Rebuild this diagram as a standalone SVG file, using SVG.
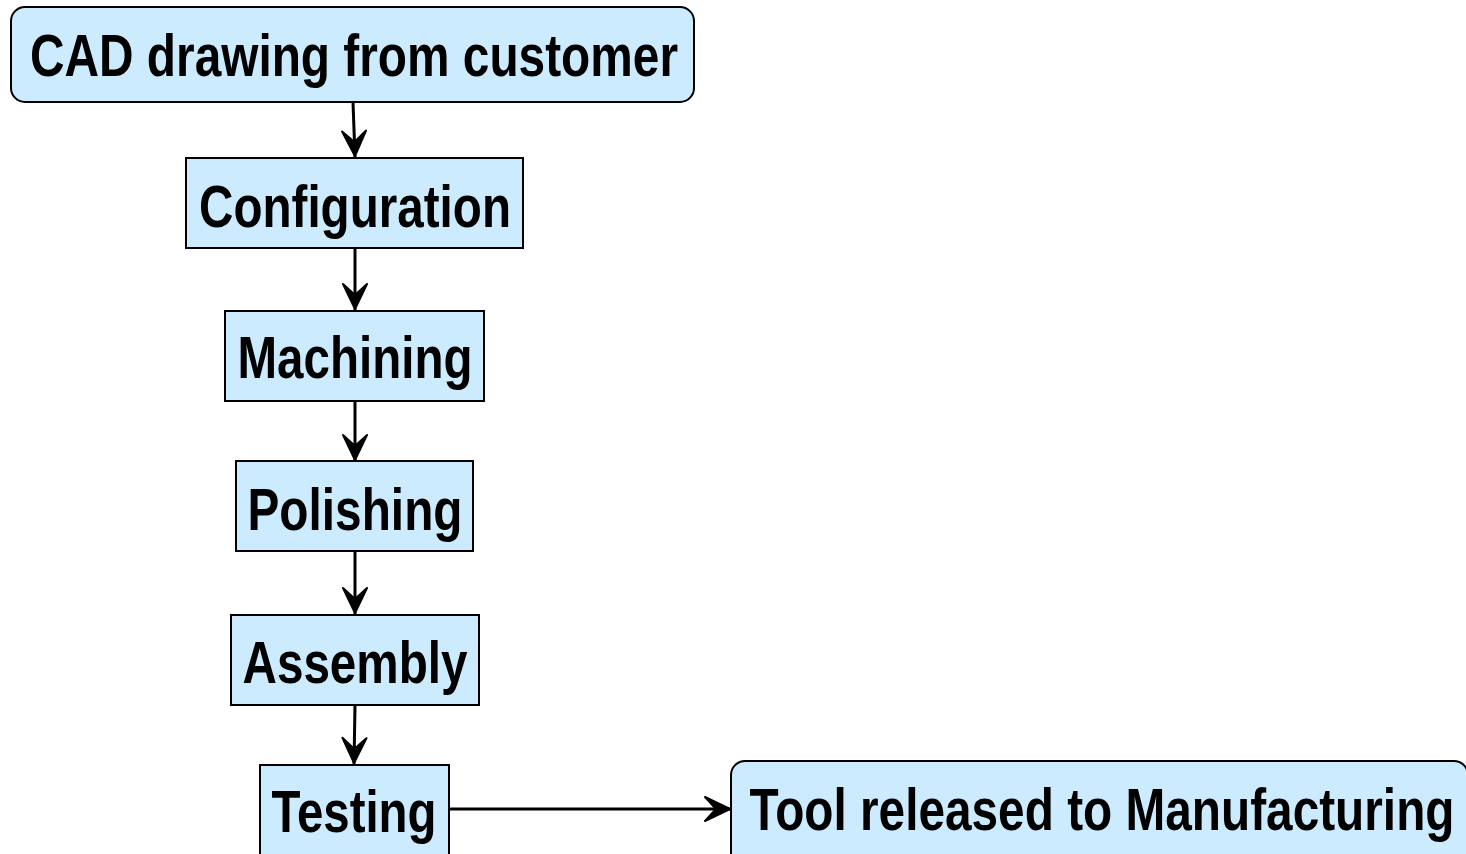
<svg xmlns="http://www.w3.org/2000/svg" width="1466" height="854" viewBox="0 0 1466 854">
  <style>
    .box { fill: #ccebff; stroke: #000; stroke-width: 2; }
    .label { font-family: "Liberation Sans Narrow", "Liberation Sans", Arial, sans-serif; font-weight: bold; font-size: 60px; fill: #000; text-anchor: middle; }
    .edge { stroke: #000; stroke-width: 3; fill: none; marker-end: url(#arrow); }
  </style>
  <defs>
    <marker id="arrow" markerUnits="userSpaceOnUse" markerWidth="34" markerHeight="34" viewBox="-31 -17 34 34" refX="0" refY="0" orient="auto">
      <path d="M-1,0 L-26,-12 L-15,0 L-26,12 Z" fill="#000" stroke="#000" stroke-width="2" stroke-linejoin="round"/>
    </marker>
  </defs>

  <rect width="1466" height="854" fill="#fff"/>

  <!-- connectors -->
  <g id="connectors">
    <path class="edge" d="M353,102 L355,157"/>
    <path class="edge" d="M355,248 L355,310"/>
    <path class="edge" d="M355,401 L355,461"/>
    <path class="edge" d="M355,551 L355,614"/>
    <path class="edge" d="M355,705 L354,764"/>
    <path class="edge" d="M449,809 L731,809"/>
  </g>

  <!-- process steps -->
  <g id="cad">
    <rect class="box" x="11" y="7" width="683" height="95" rx="14"/>
    <text class="label" x="354" y="76" textLength="648" lengthAdjust="spacingAndGlyphs">CAD drawing from customer</text>
  </g>
  <g id="configuration">
    <rect class="box" x="186" y="158" width="337" height="90"/>
    <text class="label" x="355" y="227" textLength="312" lengthAdjust="spacingAndGlyphs">Configuration</text>
  </g>
  <g id="machining">
    <rect class="box" x="225" y="311" width="259" height="90"/>
    <text class="label" x="355" y="378" textLength="235" lengthAdjust="spacingAndGlyphs">Machining</text>
  </g>
  <g id="polishing">
    <rect class="box" x="236" y="461" width="237" height="90"/>
    <text class="label" x="355" y="530" textLength="215" lengthAdjust="spacingAndGlyphs">Polishing</text>
  </g>
  <g id="assembly">
    <rect class="box" x="231" y="615" width="248" height="90"/>
    <text class="label" x="355" y="683" textLength="225" lengthAdjust="spacingAndGlyphs">Assembly</text>
  </g>
  <g id="testing">
    <rect class="box" x="260" y="765" width="189" height="100"/>
    <text class="label" x="354" y="832" textLength="165" lengthAdjust="spacingAndGlyphs">Testing</text>
  </g>
  <g id="release">
    <rect class="box" x="731" y="761" width="737" height="110" rx="14"/>
    <text class="label" x="1102" y="830" textLength="705" lengthAdjust="spacingAndGlyphs">Tool released to Manufacturing</text>
  </g>
</svg>
